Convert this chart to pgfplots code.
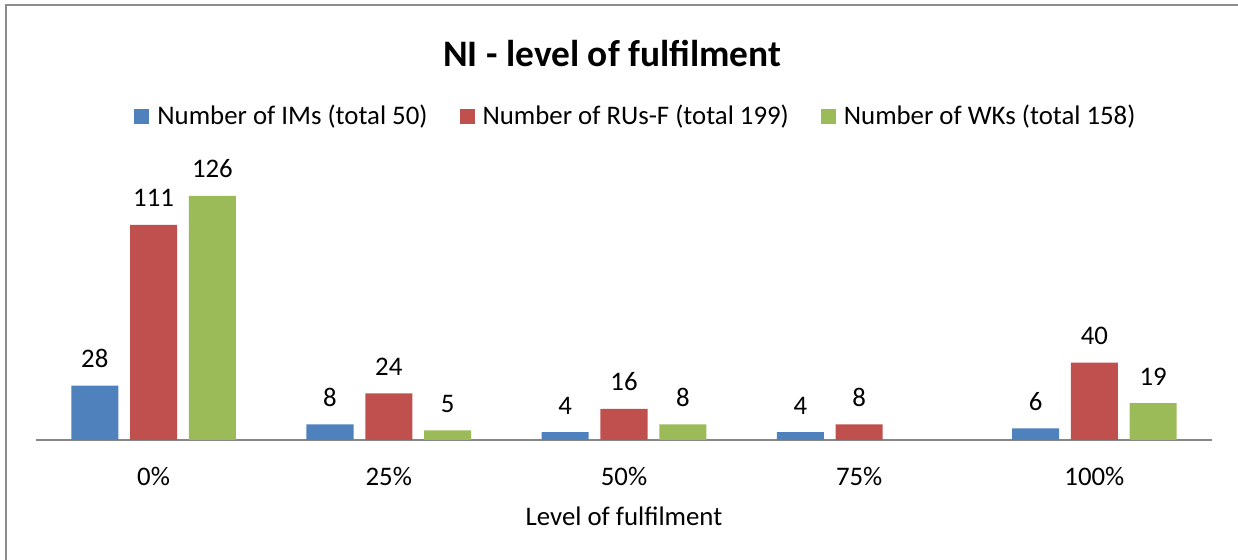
\documentclass[border=0pt]{standalone}
\usepackage{fontspec}
\setmainfont{Carlito}
\usepackage{pgfplots}
\pgfplotsset{compat=1.18}
\definecolor{imblue}{HTML}{4F81BD}
\definecolor{rured}{HTML}{C0504D}
\definecolor{wkgreen}{HTML}{9BBB59}
\definecolor{axgray}{HTML}{868686}
\definecolor{framegray}{HTML}{8C8C8C}

\begin{document}
\begin{tikzpicture}[x=1pt,y=1pt]
\useasboundingbox (0,0) rectangle (619,280);
\draw[line width=1.2pt,framegray] (3,-1) -- (3,277.5) -- (620,277.5);
\begin{axis}[
  at={(18pt,60pt)}, anchor=south west,
  scale only axis,
  width=588pt, height=135.6pt,
  xmin=-0.5, xmax=4.5, ymin=0, ymax=140,
  axis x line*=bottom, axis y line=none,
  x axis line style={axgray,line width=1pt},
  xtick={0,1,2,3,4},
  xticklabels={0\%,25\%,50\%,75\%,100\%},
  xtick style={draw=none},
  xticklabel style={anchor=base,yshift=-18.5pt,font=\fontsize{13.4}{15}\selectfont},
  ytick=\empty,
  clip=false,
  ybar, bar width=0.2,
  nodes near coords,
  /pgf/number format/assume math mode=true,
  every node near coord/.append style={anchor=base,yshift=9pt,black,font=\fontsize{13.4}{15}\selectfont},
  title={\textbf{NI - level of fulfilment}},
  title style={at={(axis description cs:0.49,1.42)},anchor=center,yshift=-5.5pt,font=\fontsize{18.7}{22}\selectfont},
  xlabel={Level of fulfilment},
  xlabel style={at={(axis description cs:0.5,-0.28)},anchor=center,font=\fontsize{13.4}{15}\selectfont},
  legend columns=3,
  legend style={draw=none,fill=none,at={(axis description cs:0.511,1.194)},anchor=center,
    font=\fontsize{13.4}{15}\selectfont,
    /tikz/every odd column/.append style={column sep=2pt},
    /tikz/every even column/.append style={column sep=14pt}},
  legend image code/.code={\fill[#1] (0pt,-3.75pt) rectangle (7.5pt,3.75pt);},
]
\addplot[fill=imblue,draw=none,bar shift=-0.25] coordinates {(0,28) (1,8) (2,4) (3,4) (4,6)};
\addplot[fill=rured,draw=none,bar shift=0] coordinates {(0,111) (1,24) (2,16) (3,8) (4,40)};
\addplot[fill=wkgreen,draw=none,bar shift=0.25] coordinates {(0,126) (1,5) (2,8) (4,19)};
\legend{Number of IMs (total 50),Number of RUs-F (total 199),Number of WKs (total 158)}
\end{axis}
\end{tikzpicture}
\end{document}
